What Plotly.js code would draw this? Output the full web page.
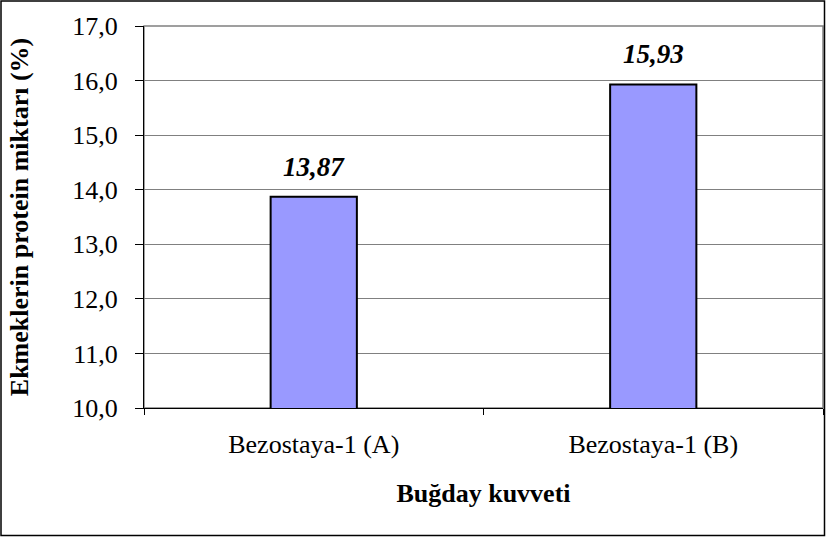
<!DOCTYPE html>
<html>
<head>
<meta charset="utf-8">
<script src="https://cdn.plot.ly/plotly-3.0.1.min.js"></script>
<style>
html,body{margin:0;padding:0;background:#fff;}
#chart{width:826px;height:537px;}
</style>
</head>
<body>
<div id="chart"></div>
<script>
const categories = ["Bezostaya-1 (A)", "Bezostaya-1 (B)"];
const proteinValues = [13.87, 15.93];
const yTickValues = [10, 11, 12, 13, 14, 15, 16, 17];

const serif = "Liberation Serif";
const labels = proteinValues.map(v => v.toFixed(2).replace('.', ','));

const trace = {
  type: 'bar',
  x: categories,
  y: proteinValues,
  marker: {color: '#9999FF', line: {color: '#000', width: 2}},
  hoverinfo: 'skip'
};

const L = 144, R = 3, T = 26, B = 129, W = 826, H = 537;
const pw = W - L - R, ph = H - T - B;

const annotations = categories.map((c, i) => ({
  x: c, y: proteinValues[i], xref: 'x', yref: 'y',
  text: labels[i], showarrow: false,
  yanchor: 'bottom', yshift: 13,
  font: {family: serif, size: 27, color: '#000', weight: 'bold', style: 'italic'}
}));

const layout = {
  width: W, height: H,
  margin: {l: L, r: R, t: T, b: B, pad: 0},
  paper_bgcolor: '#fff',
  plot_bgcolor: '#fff',
  bargap: 0.746,
  separators: ',.',
  showlegend: false,
  font: {family: serif, color: '#000'},
  xaxis: {
    type: 'category',
    showline: true, linecolor: '#000', linewidth: 1,
    ticks: 'outside', tickson: 'boundaries', ticklen: 6, tickcolor: '#000',
    tickfont: {family: serif, size: 26, color: '#000'},
    ticklabelstandoff: 13,
    showgrid: false,
    title: {text: 'Buğday kuvveti', font: {family: serif, size: 26, color: '#000', weight: 'bold'}, standoff: 25},
    fixedrange: true
  },
  yaxis: {
    range: [10, 17],
    tickvals: yTickValues,
    tickformat: '.1f',
    showline: true, linecolor: '#000', linewidth: 1,
    ticks: 'outside', ticklen: 8, tickcolor: '#000',
    tickfont: {family: serif, size: 26, color: '#000'},
    ticklabelstandoff: 12,
    showgrid: true, gridcolor: '#808080', gridwidth: 1,
    zeroline: false,
    title: {text: 'Ekmeklerin protein miktarı (%)', font: {family: serif, size: 26, color: '#000', weight: 'bold'}, standoff: 36},
    fixedrange: true
  },
  annotations: annotations,
  shapes: [
    {type: 'rect', xref: 'paper', yref: 'paper', x0: 0, x1: 1, y0: 0, y1: 1,
     line: {color: '#808080', width: 1.5}, layer: 'below'},
    {type: 'rect', xref: 'paper', yref: 'paper',
     x0: (1 - L) / pw, x1: (W - 1.5 - L) / pw,
     y0: -(H - 1.5 - T - ph) / ph, y1: (T + ph - 1) / ph,
     line: {color: '#000', width: 1.5}, layer: 'above'}
  ]
};

Plotly.newPlot('chart', [trace], layout, {displayModeBar: false, staticPlot: true});
</script>
</body>
</html>
